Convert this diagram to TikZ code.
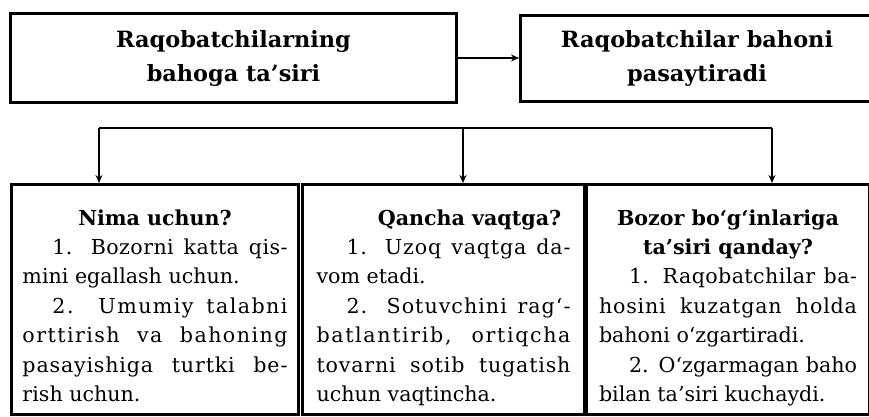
\documentclass[tikz,border=0pt]{standalone}
\usepackage{fontspec}
\setmainfont{DejaVu Serif}
\usetikzlibrary{arrows.meta}

\newcommand{\qator}[2][0]{\hbox to\hsize{\addfontfeature{LetterSpace=#1}#2}}
\newcommand{\oxiri}[1]{\hbox to\hsize{#1\hfil}}
\newcommand{\sarlavha}[2][0pt]{\hbox to\hsize{\hfil\hspace*{#1}\bfseries #2\hfil}}
\newcommand{\band}{\hspace*{15pt}}

\tikzset{
  box/.style={draw, line width=1.5pt, anchor=north west, inner sep=0pt,
    align=center, font=\bfseries\fontsize{11.2}{17}\selectfont},
  txtbox/.style={draw, line width=1.5pt, anchor=north west, inner sep=0pt,
    minimum height=115pt, align=justify, font=\fontsize{10.3}{14.7}\selectfont},
  line/.style={line width=1.3pt},
  arr/.style={line width=1.3pt, -{Stealth[length=4pt,width=3.5pt]}}
}

\begin{document}
\begin{tikzpicture}[x=0.5pt,y=-0.5pt]
\useasboundingbox (0,0) rectangle (869,417);

\node[box, minimum width=223pt, minimum height=44.5pt] (a) at (9,12)
  {Raqobatchilarning\\bahoga ta’siri};
\node[box, minimum width=176.5pt, minimum height=43pt] (b) at (519,14)
  {Raqobatchilar bahoni\\pasaytiradi};

\node[txtbox, minimum width=143.5pt, text width=132.5pt] (c1) at (10,183) {%
  \vbox to 115pt{\vskip 12.5pt
  \sarlavha{Nima uchun?}
  \qator[2]{\band 1. Bozorni katta qis-}
  \oxiri{mini egallash uchun.}
  \qator[7]{\band 2. Umumiy talabni}
  \qator[7]{orttirish va bahoning}
  \qator[4]{pasayishiga turtki be-}
  \oxiri{rish uchun.}
  \vfil}};
\node[txtbox, minimum width=141pt, text width=127pt] (c2) at (301,183) {%
  \vbox to 115pt{\vskip 12.5pt
  \sarlavha[26pt]{Qancha vaqtga?}
  \qator[4]{\band 1. Uzoq vaqtga da-}
  \oxiri{vom etadi.}
  \qator[5]{\band 2. Sotuvchini rag‘-}
  \qator[8]{batlantirib, ortiqcha}
  \qator[4]{tovarni sotib tugatish}
  \oxiri{uchun vaqtincha.}
  \vfil}};
\node[txtbox, minimum width=141.5pt, text width=129pt] (c3) at (585,183) {%
  \vbox to 115pt{\vskip 12.5pt
  \sarlavha{Bozor bo‘g‘inlariga}
  \sarlavha{ta’siri qanday?}
  \qator[2]{\band 1. Raqobatchilar ba-}
  \qator[4]{hosini kuzatgan holda}
  \oxiri{bahoni o‘zgartiradi.}
  \qator{\band 2. O‘zgarmagan baho}
  \oxiri{bilan ta’siri kuchaydi.}
  \vfil}};

\draw[arr] (a.east) -- (a.east -| b.west);

\coordinate (l) at (99,128);
\coordinate (m) at (463,128);
\coordinate (r) at (772,128);
\draw[line] (l) -- (r);
\draw[arr] (l) -- (l |- c1.north);
\draw[arr] (m) -- (m |- c2.north);
\draw[arr] (r) -- (r |- c3.north);

\end{tikzpicture}
\end{document}
